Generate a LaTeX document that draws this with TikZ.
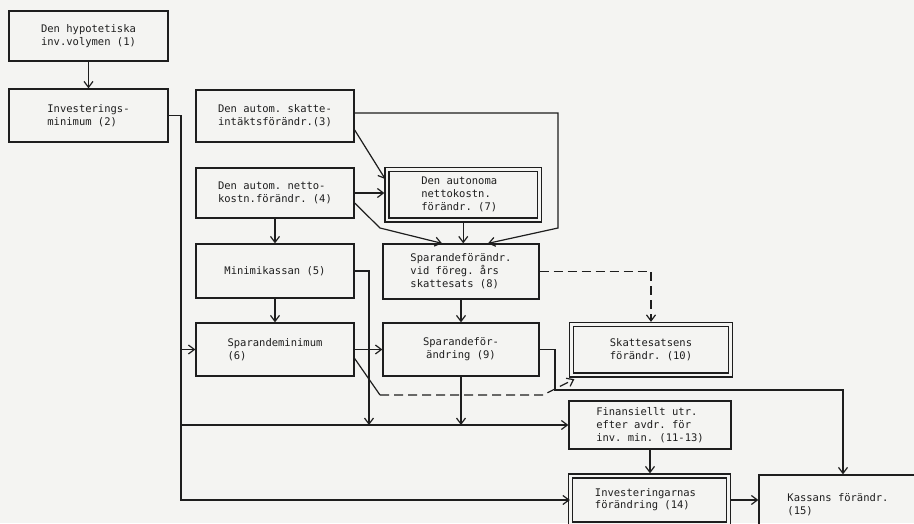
\documentclass[tikz,border=0pt]{standalone}
\usepackage{fontspec}
\setmonofont{DejaVu Sans Mono}
\usetikzlibrary{arrows.meta,calc}
\definecolor{bg}{RGB}{244,244,242}
\definecolor{ink}{RGB}{30,30,30}
\tikzset{
  box/.style={draw=ink, line width=1.3pt, inner sep=0pt, text=ink,
    font=\ttfamily\fontsize{10.5}{13}\selectfont, align=left},
  dbox/.style={box, double=bg, double distance=2.6pt},
  arr/.style={draw=ink, line width=1.2pt, -{Straight Barb[length=6pt,width=9pt]}},
  ln/.style={draw=ink, line width=1.2pt},
  dsh/.style={dash pattern=on 9pt off 5pt},
}
\begin{document}
\begin{tikzpicture}[x=1pt,y=-1pt]
\useasboundingbox (0,0) rectangle (914,523);
\clip (0,0) rectangle (914,523);
\fill[bg] (0,0) rectangle (914,523);

% boxes
\node[box, minimum width=159, minimum height=50] (B1) at (88.5,36) {Den hypotetiska\\inv.volymen (1)};
\node[box, minimum width=159, minimum height=53] (B2) at (88.5,115.5) {Investerings-\\minimum (2)};
\node[box, minimum width=158, minimum height=52] (B3) at (275,116) {Den autom. skatte-\\intäktsförändr.(3)};
\node[box, minimum width=158, minimum height=50] (B4) at (275,193) {Den autom. netto-\\kostn.förändr. (4)};
\node[box, minimum width=158, minimum height=54] (B5) at (275,271) {Minimikassan (5)};
\node[box, minimum width=158, minimum height=53] (B6) at (275,349.5) {Sparandeminimum\\(6)};
\node[dbox, minimum width=152.5, minimum height=50.5] (B7) at (463.25,194.75) {\hspace*{-8pt}Den autonoma\\\hspace*{-8pt}nettokostn.\\\hspace*{-8pt}förändr. (7)};
\node[box, minimum width=156, minimum height=55] (B8) at (461,271.5) {Sparandeförändr.\\vid föreg. års\\skattesats (8)};
\node[box, minimum width=156, minimum height=53, align=center] (B9) at (461,349.5) {Sparandeför-\\ändring (9)};
\node[dbox, minimum width=159, minimum height=50.5, align=center] (B10) at (651,349.75) {Skattesatsens\\förändr. (10)};
\node[box, minimum width=162, minimum height=48] (B11) at (650,425) {Finansiellt utr.\\efter avdr. för\\inv. min. (11-13)};
\node[dbox, minimum width=158, minimum height=48, font=\ttfamily\fontsize{10.5}{12}\selectfont] (B14) at (649.5,500) {\hspace*{-8pt}Investeringarnas\\\hspace*{-8pt}förändring (14)};
\node[box, minimum width=168, minimum height=60] (B15) at (843,505) {\hspace*{-10pt}Kassans förändr.\\\hspace*{-10pt}(15)};

% helper coordinates
\coordinate (vx) at (181,500);
\coordinate (j5) at (369,425);
\coordinate (k4) at (380,228);
\coordinate (r3a) at (558,113);
\coordinate (r3b) at (558,228);
\coordinate (k6) at (380,395);
\coordinate (k6b) at (543,395);
\coordinate (k9) at (555,390);

% connectors
\draw[arr] (B1) -- (B2);
\draw[arr] (B2.east) -| (vx) |- (B14.west);
\draw[arr] (vx |- B6.west) -- (B6.west);
\draw[arr] (vx |- B11.west) -- (B11.west);

\draw[arr, shorten >=2pt] ($(B3.east)+(0,14)$) -- ($(B7.west)+(0,-14)$);
\draw[arr, shorten >=2pt] (B4.east) -- (B4.east -| B7.west);
\draw[arr] ($(B4.east)+(0,10)$) -- (k4) -- ($(B8.north)+(-19,0)$);
\draw[arr] ($(B3.east)+(0,-3)$) -- (r3a) -- (r3b) -- ($(B8.north)+(27,0)$);
\draw[arr, shorten <=2pt] (B7.south) -- (B7.south |- B8.north);

\draw[arr] (B4) -- (B5);
\draw[arr] (B5) -- (B6);
\draw[arr] (B5.east) -| (j5);
\draw[arr] (B6.east) -- (B9.west);

\draw[ln] ($(B6.east)+(0,9)$) -- (k6);
\draw[arr, dsh] (k6) -- (k6b) -- ($(B10.south west)+(3.5,3.5)$);
\draw[arr, dsh, shorten >=2pt] (B8.east) -| (B10.north);

\draw[arr] (B8) -- (B9);
\draw[arr] (B9.east) -| (k9) -| (B15.north);
\draw[arr] (B9.south) -- (B9.south |- B11.west);

\draw[arr, shorten >=2pt] (B11.south) -- (B11.south |- B14.north);
\draw[arr, shorten <=2pt] (B14.east) -- (B14.east -| B15.west);
\end{tikzpicture}
\end{document}
